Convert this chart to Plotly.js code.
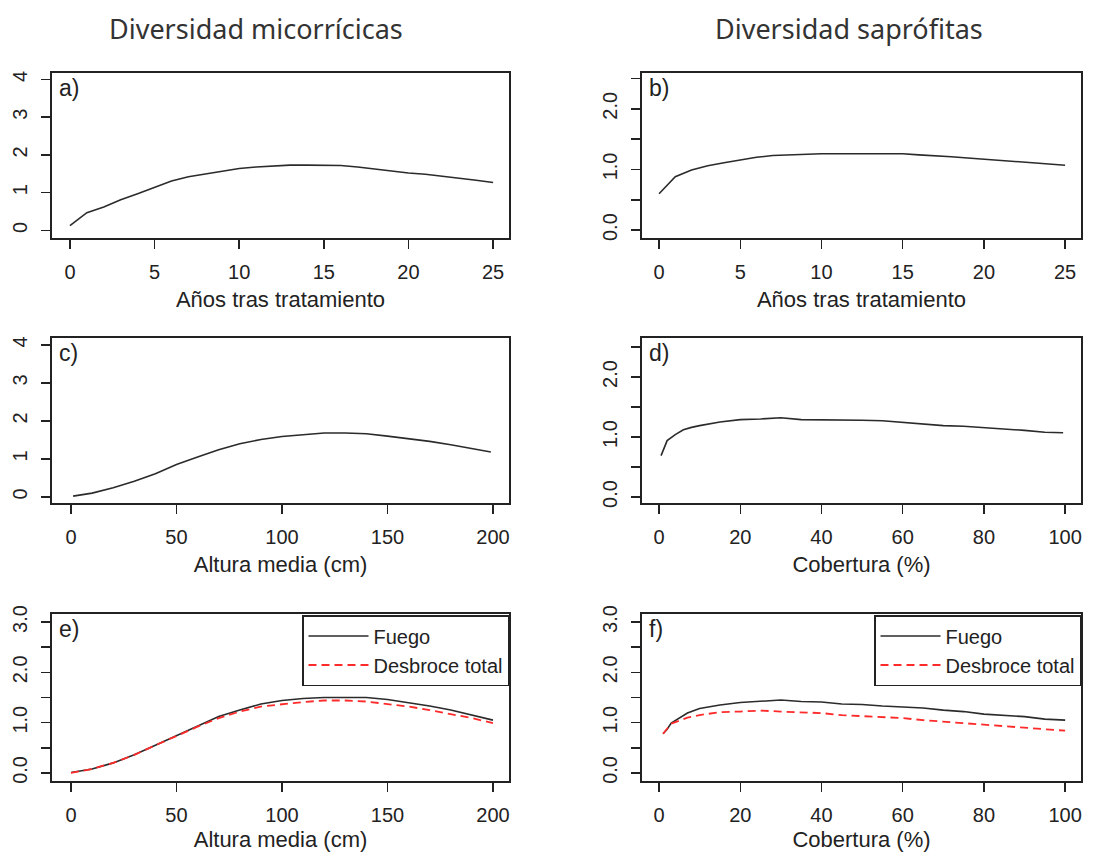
<!DOCTYPE html>
<html><head><meta charset="utf-8">
<script src="https://cdn.plot.ly/plotly-3.0.1.min.js"></script>
<style>html,body{margin:0;padding:0;background:#fff}</style>
</head><body><div id="chart" style="width:1111px;height:852px"></div>
<script>
// ---- data ----
const yearsX = [0,1,2,3,4,5,6,7,8,9,10,11,12,13,14,15,16,17,18,19,20,21,22,23,24,25];
const micYears = [0.13,0.47,0.62,0.81,0.97,1.15,1.31,1.42,1.50,1.58,1.64,1.68,1.71,1.73,1.73,1.73,1.72,1.68,1.62,1.57,1.52,1.49,1.44,1.40,1.33,1.27];
const sapYears = [0.60,0.88,0.99,1.06,1.11,1.16,1.20,1.23,1.24,1.26,1.26,1.26,1.26,1.26,1.26,1.26,1.24,1.23,1.21,1.19,1.17,1.15,1.14,1.12,1.10,1.07];

const heightC = [1,10,20,30,40,50,60,70,80,90,100,110,120,130,140,150,160,170,180,190,199];
const micHeight = [0.02,0.10,0.24,0.41,0.61,0.85,1.05,1.24,1.40,1.51,1.59,1.64,1.68,1.68,1.66,1.60,1.53,1.46,1.37,1.28,1.18];

const coverD = [0.5,2,4,6,8,10,15,20,25,30,35,40,45,50,55,60,65,70,75,80,85,90,95,99.5];
const sapCover = [0.69,0.94,1.04,1.12,1.16,1.19,1.25,1.29,1.30,1.32,1.29,1.29,1.29,1.28,1.27,1.24,1.22,1.19,1.18,1.16,1.13,1.11,1.08,1.07];

const heightE = [0,10,20,30,40,50,60,70,80,90,100,110,120,130,140,150,160,170,180,190,200];
const micHeightFuego = [0.01,0.08,0.20,0.36,0.55,0.74,0.94,1.12,1.25,1.37,1.44,1.48,1.50,1.50,1.50,1.46,1.40,1.33,1.25,1.15,1.05];
const micHeightDesbroce = [0.00,0.08,0.20,0.36,0.55,0.74,0.92,1.09,1.22,1.32,1.37,1.41,1.44,1.44,1.42,1.37,1.32,1.25,1.17,1.09,0.99];

const coverF = [1,2,3,5,7,10,15,20,25,30,35,40,45,50,55,60,65,70,75,80,85,90,95,100];
const sapCoverFuego = [0.78,0.87,0.99,1.09,1.19,1.28,1.35,1.40,1.42,1.45,1.42,1.41,1.37,1.36,1.33,1.31,1.29,1.25,1.22,1.17,1.15,1.12,1.07,1.05];
const sapCoverDesbroce = [0.78,0.87,0.98,1.04,1.10,1.15,1.21,1.22,1.24,1.22,1.21,1.19,1.15,1.13,1.10,1.09,1.05,1.02,0.99,0.96,0.94,0.91,0.88,0.84];

const colTitles = ['Diversidad micorrícicas','Diversidad saprófitas'];
const panelLabels = ['a)','b)','c)','d)','e)','f)'];
const xTitles = ['Años tras tratamiento','Años tras tratamiento','Altura media (cm)','Cobertura (%)','Altura media (cm)','Cobertura (%)'];
const seriesNames = ['Fuego','Desbroce total'];

const xTicksYears = [0,5,10,15,20,25];
const xTicksHeight = [0,50,100,150,200];
const xTicksCover = [0,20,40,60,80,100];
const yTicksMic = [0,1,2,3,4];
const yTicksMicLbl = ['0','1','2','3','4'];
const yTicksSap = [0,0.5,1,1.5,2,2.5];
const yTicksSapLbl = ['0.0','','1.0','','2.0',''];
const yTicksE = [0,0.5,1,1.5,2,2.5,3];
const yTicksELbl = ['0.0','','1.0','','2.0','','3.0'];

// ---- layout geometry ----
const W = 1111, H = 852;
const colDom = [[52/W, 509/W], [642/W, 1081/W]];
const rowDom = [[1-238/H, 1-73/H], [1-503/H, 1-338/H], [1-781/H, 1-614/H]];
const ink = '#222';
const tickFont = {family:'Liberation Sans, Arial, sans-serif', size:20, color:ink};
const titleFont = {family:'Liberation Sans, Arial, sans-serif', size:22, color:ink};

function xAxis(col,row,range,ticks,title,anchor){
  return {domain:colDom[col], range:range, tickmode:'array', tickvals:ticks, ticktext:ticks.map(String),
    ticks:'outside', ticklen:9, tickwidth:1.5, tickcolor:ink, showline:true, mirror:true, linecolor:ink, linewidth:1.6,
    showgrid:false, zeroline:false, anchor:anchor, tickfont:tickFont, ticklabelstandoff:6,
    title:{text:title, font:titleFont, standoff:10}, fixedrange:true};
}
function yAxis(row,range,ticks,labels,anchor){
  return {domain:rowDom[row], range:range, tickmode:'array', tickvals:ticks, ticktext:labels,
    ticks:'outside', ticklen:9, tickwidth:1.5, tickcolor:ink, showline:true, mirror:true, linecolor:ink, linewidth:1.6,
    showgrid:false, zeroline:false, anchor:anchor, tickfont:tickFont, tickangle:-90, ticklabelstandoff:6, fixedrange:true};
}

const blackLine = {color:'#2b2b2b', width:1.6};
const redLine = {color:'#ff2a2a', width:1.8, dash:'8px,5px'};

const traces = [
  {x:yearsX, y:micYears, xaxis:'x', yaxis:'y', mode:'lines', line:blackLine, showlegend:false},
  {x:yearsX, y:sapYears, xaxis:'x2', yaxis:'y2', mode:'lines', line:blackLine, showlegend:false},
  {x:heightC, y:micHeight, xaxis:'x3', yaxis:'y3', mode:'lines', line:blackLine, showlegend:false},
  {x:coverD, y:sapCover, xaxis:'x4', yaxis:'y4', mode:'lines', line:blackLine, showlegend:false},
  {x:heightE, y:micHeightFuego, xaxis:'x5', yaxis:'y5', mode:'lines', line:blackLine, name:seriesNames[0], legend:'legend'},
  {x:heightE, y:micHeightDesbroce, xaxis:'x5', yaxis:'y5', mode:'lines', line:redLine, name:seriesNames[1], legend:'legend'},
  {x:coverF, y:sapCoverFuego, xaxis:'x6', yaxis:'y6', mode:'lines', line:blackLine, name:seriesNames[0], legend:'legend2'},
  {x:coverF, y:sapCoverDesbroce, xaxis:'x6', yaxis:'y6', mode:'lines', line:redLine, name:seriesNames[1], legend:'legend2'}
];

const legendBase = {bordercolor:ink, borderwidth:1.5, bgcolor:'#fff', yanchor:'top', xanchor:'right',
  font:{family:'Liberation Sans, Arial, sans-serif', size:20, color:ink}, traceorder:'normal', itemwidth:60,
  y:1-615/H};

const annotations = [
  {text:colTitles[0], xref:'paper', yref:'paper', x:256/W, y:1-29/H, xanchor:'center', yanchor:'middle', showarrow:false,
   font:{family:'Noto Sans, sans-serif', size:27, color:'#333'}},
  {text:colTitles[1], xref:'paper', yref:'paper', x:849/W, y:1-29/H, xanchor:'center', yanchor:'middle', showarrow:false,
   font:{family:'Noto Sans, sans-serif', size:27, color:'#333'}}
];
const axisIds = ['x','x2','x3','x4','x5','x6'];
panelLabels.forEach((t,i)=>{
  const ax = axisIds[i];
  annotations.push({text:t, xref:ax+' domain', yref:(ax.replace('x','y'))+' domain', x:0.012, y:1.0, xanchor:'left', yanchor:'top',
    showarrow:false, font:{family:'Liberation Sans, Arial, sans-serif', size:23, color:ink}});
});

const layout = {
  width:W, height:H, margin:{l:0,r:0,t:0,b:0}, paper_bgcolor:'#fff', plot_bgcolor:'#fff',
  showlegend:true,
  xaxis: xAxis(0,0,[-1.06,25.94],xTicksYears,xTitles[0],'y'),
  yaxis: yAxis(0,[-0.2,4.17],yTicksMic,yTicksMicLbl,'x'),
  xaxis2: xAxis(1,0,[-1.05,25.98],xTicksYears,xTitles[1],'y2'),
  yaxis2: yAxis(0,[-0.13,2.59],yTicksSap,yTicksSapLbl,'x2'),
  xaxis3: xAxis(0,1,[-9,207.6],xTicksHeight,xTitles[2],'y3'),
  yaxis3: yAxis(1,[-0.16,4.18],yTicksMic,yTicksMicLbl,'x3'),
  xaxis4: xAxis(1,1,[-4.19,103.9],xTicksCover,xTitles[3],'y4'),
  yaxis4: yAxis(1,[-0.1,2.65],yTicksSap,yTicksSapLbl,'x4'),
  xaxis5: xAxis(0,2,[-9,207.6],xTicksHeight,xTitles[4],'y5'),
  yaxis5: yAxis(2,[-0.16,3.16],yTicksE,yTicksELbl,'x5'),
  xaxis6: xAxis(1,2,[-4.19,103.9],xTicksCover,xTitles[5],'y6'),
  yaxis6: yAxis(2,[-0.16,3.16],yTicksE,yTicksELbl,'x6'),
  legend: Object.assign({}, legendBase, {x:509/W}),
  legend2: Object.assign({}, legendBase, {x:1081/W}),
  annotations: annotations
};

Plotly.newPlot('chart', traces, layout, {displayModeBar:false, staticPlot:true});
</script>
</body></html>
